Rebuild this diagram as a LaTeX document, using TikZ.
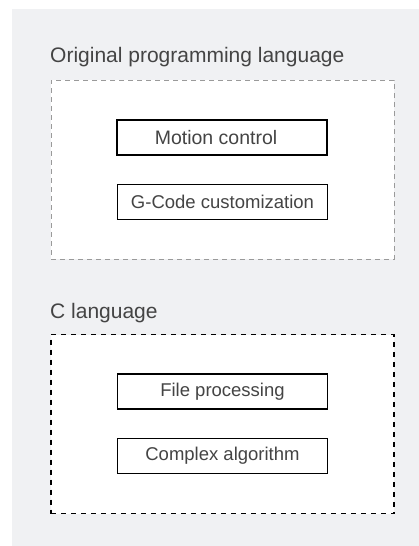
\documentclass[tikz,border=0pt]{standalone}
\usepackage{fontspec}
\setmainfont{Liberation Sans}
\definecolor{bg}{HTML}{F0F1F3}
\definecolor{txt}{HTML}{444444}
\definecolor{dashgray}{HTML}{9A9A9A}
\begin{document}
\begin{tikzpicture}[x=1pt,y=-1pt,
  title/.style={anchor=base west, inner sep=0pt, text=txt, font=\fontsize{21}{25}\selectfont},
  itembox/.style={draw=black, line width=1.5pt, fill=white, minimum width=210pt, minimum height=35pt, inner sep=0pt, text=txt, font=\fontsize{18.5}{22}\selectfont},
  groupbox/.style={minimum width=343pt, minimum height=179pt, inner sep=0pt, fill=white}]
\useasboundingbox (0,0) rectangle (419,546);
\fill[bg] (12,9) rectangle (419,546);
% top group
\node[groupbox, draw=dashgray, line width=1pt, dash pattern=on 5pt off 4pt] (g1) at (222.5,169.5) {};
\node[title] (t1) at (50,62) {Original programming language};
\node[itembox, line width=2pt, font=\fontsize{19.5}{23}\selectfont] (mc) at (222,137.5) {\hspace*{-12pt}Motion control};
\node[itembox] (gc) at (222.5,202) {G-Code customization};
% bottom group
\node[groupbox, draw=black, line width=1.3pt, dash pattern=on 5pt off 5pt] (g2) at (222.5,424) {};
\node[title] (t2) at (50,318) {C language};
\node[itembox] (fp) at (222.5,391.5) {File processing};
\node[itembox] (ca) at (222.5,456) {Complex algorithm};
\end{tikzpicture}
\end{document}
